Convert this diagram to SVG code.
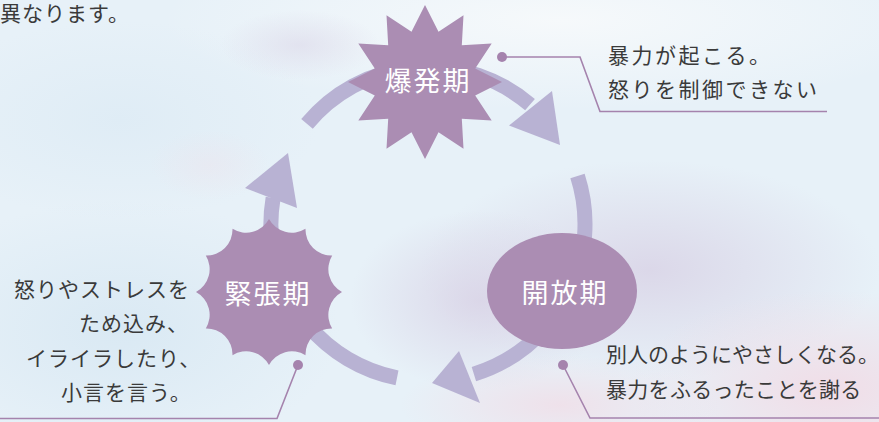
<svg xmlns="http://www.w3.org/2000/svg" width="879" height="422" viewBox="0 0 879 422">
<style>
.txt{font-family:"Noto Sans CJK JP","Noto Sans",sans-serif;font-size:21px;fill:#3a3a3a}
.lbl{font-family:"Noto Sans CJK JP","Noto Sans",sans-serif;font-size:27px;fill:#ffffff;letter-spacing:2px;text-anchor:middle}
.node{fill:#ab8db3}
.arc{fill:none;stroke:#b8b2d3;stroke-width:15;stroke-linecap:butt}
.head{fill:#b8b2d3}
.call{fill:none;stroke:#a583ad;stroke-width:1.6}
.dot{fill:#a583ad}
</style>
<defs>
<radialGradient id="gPurple" cx="0.5" cy="0.5" r="0.5"><stop offset="0" stop-color="#d9d3e6" stop-opacity="0.85"/><stop offset="1" stop-color="#d9d3e6" stop-opacity="0"/></radialGradient>
<radialGradient id="gPink" cx="0.5" cy="0.5" r="0.5"><stop offset="0" stop-color="#f1dce6" stop-opacity="0.95"/><stop offset="1" stop-color="#f1dce6" stop-opacity="0"/></radialGradient>
<radialGradient id="gBlue" cx="0.5" cy="0.5" r="0.5"><stop offset="0" stop-color="#d8e8f3" stop-opacity="0.9"/><stop offset="1" stop-color="#d8e8f3" stop-opacity="0"/></radialGradient>
<radialGradient id="gWhite" cx="0.5" cy="0.5" r="0.5"><stop offset="0" stop-color="#f6f9fb" stop-opacity="1"/><stop offset="1" stop-color="#f6f9fb" stop-opacity="0"/></radialGradient>
</defs>
<g id="background">
<rect width="879" height="422" fill="#e7f1f8"/>
<ellipse cx="560" cy="20" rx="400" ry="90" fill="url(#gWhite)"/>
<ellipse cx="120" cy="330" rx="220" ry="130" fill="url(#gBlue)"/>
<ellipse cx="120" cy="120" rx="200" ry="100" fill="url(#gBlue)" opacity="0.6"/>
<ellipse cx="650" cy="270" rx="230" ry="110" fill="url(#gPurple)"/>
<ellipse cx="480" cy="300" rx="130" ry="90" fill="url(#gPurple)"/>
<ellipse cx="830" cy="390" rx="200" ry="100" fill="url(#gPink)"/>
<ellipse cx="560" cy="405" rx="160" ry="50" fill="url(#gPink)" opacity="0.8"/>
<ellipse cx="300" cy="45" rx="80" ry="35" fill="url(#gPurple)" opacity="0.6"/>
<ellipse cx="210" cy="165" rx="60" ry="35" fill="url(#gPink)" opacity="0.3"/>
</g>
<g id="connectors">
<path class="arc" d="M307,123.9 A157,157 0 0 1 530,104.6"/>
<polygon class="head" points="560,145 552,91 509,125.5"/>
<path class="arc" d="M577.5,176 A157,157 0 0 1 473.9,374.1"/>
<polygon class="head" points="432,383 459,351 480,403"/>
<path class="arc" d="M397,377.9 A157,157 0 0 1 307.7,324.9"/>
<path class="arc" d="M285.7,290.3 A157,157 0 0 1 273.1,198.1"/>
<polygon class="head" points="288,153 245,188 297,208"/>
</g>
<g id="callout-burst">
<circle class="dot" cx="502" cy="57" r="5"/>
<polyline class="call" points="502,57 580,57 600,111.5 827,111.5"/>
<text class="txt" x="608" y="63" style="letter-spacing:2.5px">暴力が起こる。</text>
<text class="txt" x="608" y="97" style="letter-spacing:2.5px">怒りを制御できない</text>
</g>
<g id="callout-tension">
<circle class="dot" cx="298" cy="365" r="5"/>
<polyline class="call" points="298,365 277,418.5 0,418.5"/>
<text class="txt" x="14" y="297" style="letter-spacing:1px">怒りやストレスを</text>
<text class="txt" x="79" y="331" style="letter-spacing:1px">ため込み、</text>
<text class="txt" x="26" y="366" style="letter-spacing:1px">イライラしたり、</text>
<text class="txt" x="61" y="400" style="letter-spacing:1px">小言を言う。</text>
</g>
<g id="callout-open">
<circle class="dot" cx="563" cy="365" r="5"/>
<polyline class="call" points="563,365 590,418 879,418"/>
<text class="txt" x="606" y="362">別人のようにやさしくなる。</text>
<text class="txt" x="606" y="397" style="letter-spacing:0.3px">暴力をふるったことを謝る</text>
</g>
<g id="node-burst">
<polygon class="node" points="425,5 438.5,31.8 463.5,15.3 461.8,45.2 491.7,43.5 475.2,68.5 502,82 475.2,95.5 491.7,120.5 461.8,118.8 463.5,148.7 438.5,132.2 425,159 411.5,132.2 386.5,148.7 388.2,118.8 358.3,120.5 374.8,95.5 348,82 374.8,68.5 358.3,43.5 388.2,45.2 386.5,15.3 411.5,31.8"/>
<text class="lbl" x="428" y="91">爆発期</text>
</g>
<g id="node-tension">
<path class="node" d="M269,219 A26,26 0 0 0 305.5,228.8 A26,26 0 0 0 332.2,255.5 A26,26 0 0 0 342,292 A26,26 0 0 0 332.2,328.5 A26,26 0 0 0 305.5,355.2 A26,26 0 0 0 269,365 A26,26 0 0 0 232.5,355.2 A26,26 0 0 0 205.8,328.5 A26,26 0 0 0 196,292 A26,26 0 0 0 205.8,255.5 A26,26 0 0 0 232.5,228.8 A26,26 0 0 0 269,219 Z"/>
<text class="lbl" x="268" y="304">緊張期</text>
</g>
<g id="node-open">
<ellipse class="node" cx="562" cy="291" rx="75" ry="58"/>
<text class="lbl" x="565" y="303">開放期</text>
</g>
<g id="caption">
<text class="txt" x="0" y="21" style="letter-spacing:1px">異なります。</text>
</g>
</svg>
